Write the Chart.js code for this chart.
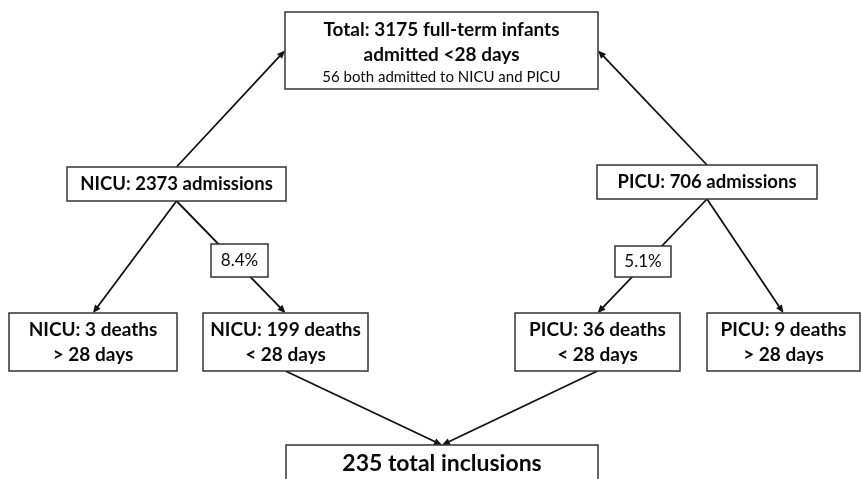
<!DOCTYPE html>
<html>
<head>
<meta charset="utf-8">
<script src="https://cdn.jsdelivr.net/npm/chart.js@4"></script>
<style>
  html, body { margin: 0; padding: 0; background: #fff; }
  canvas { display: block; }
</style>
</head>
<body>
<canvas id="flow" width="861" height="479"></canvas>
<script>
// Tal från flödesschemat
const totalInfants = 3175;
const bothUnits = 56;
const units = ['NICU', 'PICU'];
const admissions = [2373, 706];
const deathsUnder28 = [199, 36];
const deathsOver28 = [3, 9];
const mortalityPct = ['8.4%', '5.1%'];
const totalInclusions = 235;

// Layout i datakoordinater (x0, y0, x1, y1)
const nodes = [
  { id: 'top',   box: [285, 12, 598, 89],  lines: [
      { t: `Total: ${totalInfants} full-term infants`, s: 19, b: true, y: 30 },
      { t: 'admitted <28 days', s: 19, b: true, y: 55 },
      { t: `${bothUnits} both admitted to NICU and PICU`, s: 15, b: false, y: 77 }] },
  { id: 'nAdm',  box: [67, 167, 286, 201],  lines: [{ t: `${units[0]}: ${admissions[0]} admissions`, s: 18.5, b: true }] },
  { id: 'pAdm',  box: [597, 165, 817, 199], lines: [{ t: `${units[1]}: ${admissions[1]} admissions`, s: 18.5, b: true }] },
  { id: 'nOld',  box: [9, 313, 177, 371],   lines: [{ t: `${units[0]}: ${deathsOver28[0]} deaths`, s: 19, b: true, y: 330 }, { t: '> 28 days', s: 19, b: true, y: 355 }] },
  { id: 'nNew',  box: [203, 313, 368, 371], lines: [{ t: `${units[0]}: ${deathsUnder28[0]} deaths`, s: 19, b: true, y: 330 }, { t: '< 28 days', s: 19, b: true, y: 355 }] },
  { id: 'pNew',  box: [515, 313, 680, 371], lines: [{ t: `${units[1]}: ${deathsUnder28[1]} deaths`, s: 19, b: true, y: 330 }, { t: '< 28 days', s: 19, b: true, y: 355 }] },
  { id: 'pOld',  box: [707, 313, 860, 371], lines: [{ t: `${units[1]}: ${deathsOver28[1]} deaths`, s: 19, b: true, y: 330 }, { t: '> 28 days', s: 19, b: true, y: 355 }] },
  { id: 'incl',  box: [286, 445, 598, 500], lines: [{ t: `${totalInclusions} total inclusions`, s: 23, b: true, y: 464 }] }
];

// Pilar: [från, sida, till, sida]
const edges = [
  ['nAdm', 'top', 'top', 'left'],
  ['pAdm', 'top', 'top', 'right'],
  ['nAdm', 'bottom', 'nOld', 'top'],
  ['nAdm', 'bottom', 'nNew', 'top'],
  ['pAdm', 'bottom', 'pNew', 'top'],
  ['pAdm', 'bottom', 'pOld', 'top'],
  ['nNew', 'bottom', 'incl', 'top'],
  ['pNew', 'bottom', 'incl', 'top']
];

// Procentrutor ovanpå pilarna
const pctBoxes = [
  { t: mortalityPct[0], box: [211, 244, 268, 277] },
  { t: mortalityPct[1], box: [615, 246, 671, 277] }
];

const FONT = 'Lato, "Open Sans", sans-serif';

function anchor(n, side) {
  const [x0, y0, x1, y1] = n.box;
  if (side === 'top') return [(x0 + x1) / 2, y0];
  if (side === 'bottom') return [(x0 + x1) / 2, y1];
  if (side === 'left') return [x0, (y0 + y1) / 2];
  return [x1, (y0 + y1) / 2];
}

const flowPlugin = {
  id: 'flow',
  afterDatasetsDraw(chart) {
    const ctx = chart.ctx;
    const sx = chart.scales.x, sy = chart.scales.y;
    const px = v => sx.getPixelForValue(v);
    const py = v => sy.getPixelForValue(v);
    const byId = {};
    nodes.forEach(n => byId[n.id] = n);

    ctx.save();
    // Pilar
    ctx.strokeStyle = '#111';
    ctx.fillStyle = '#111';
    ctx.lineWidth = 1.8;
    edges.forEach(([a, sa, b, sb]) => {
      const p = anchor(byId[a], sa), q = anchor(byId[b], sb);
      const x1 = px(p[0]), y1 = py(p[1]), x2 = px(q[0]), y2 = py(q[1]);
      const ang = Math.atan2(y2 - y1, x2 - x1);
      ctx.beginPath();
      ctx.moveTo(x1, y1);
      ctx.lineTo(x2 - 4 * Math.cos(ang), y2 - 4 * Math.sin(ang));
      ctx.stroke();
      const L = 8, W = 3.5;
      ctx.beginPath();
      ctx.moveTo(x2, y2);
      ctx.lineTo(x2 - L * Math.cos(ang) + W * Math.sin(ang), y2 - L * Math.sin(ang) - W * Math.cos(ang));
      ctx.lineTo(x2 - L * Math.cos(ang) - W * Math.sin(ang), y2 - L * Math.sin(ang) + W * Math.cos(ang));
      ctx.closePath();
      ctx.fill();
    });

    // Rutor
    function drawBox(box) {
      const [x0, y0, x1, y1] = box;
      ctx.fillStyle = '#fff';
      ctx.fillRect(px(x0), py(y0), px(x1) - px(x0), py(y1) - py(y0));
      ctx.strokeStyle = '#333';
      ctx.lineWidth = 1.5;
      ctx.strokeRect(px(x0), py(y0), px(x1) - px(x0), py(y1) - py(y0));
    }
    ctx.textAlign = 'center';
    ctx.textBaseline = 'middle';
    nodes.forEach(n => {
      drawBox(n.box);
      const cx = (n.box[0] + n.box[2]) / 2, cy = (n.box[1] + n.box[3]) / 2;
      n.lines.forEach(l => {
        ctx.fillStyle = '#0a0a0a';
        ctx.font = `${l.b ? 'bold ' : ''}${l.s}px ${FONT}`;
        ctx.fillText(l.t, px(cx), py(l.y !== undefined ? l.y : cy));
      });
    });
    pctBoxes.forEach(p => {
      drawBox(p.box);
      ctx.fillStyle = '#0a0a0a';
      ctx.font = `17px ${FONT}`;
      ctx.fillText(p.t, px((p.box[0] + p.box[2]) / 2), py((p.box[1] + p.box[3]) / 2));
    });
    ctx.restore();
  }
};

new Chart(document.getElementById('flow'), {
  type: 'scatter',
  data: {
    datasets: [{
      data: nodes.map(n => ({ x: (n.box[0] + n.box[2]) / 2, y: (n.box[1] + n.box[3]) / 2 })),
      pointRadius: 0
    }]
  },
  options: {
    responsive: false,
    animation: false,
    layout: { padding: 0 },
    scales: {
      x: { type: 'linear', min: 0, max: 861, display: false },
      y: { type: 'linear', min: 0, max: 479, reverse: true, display: false }
    },
    plugins: { legend: { display: false }, tooltip: { enabled: false } }
  },
  plugins: [flowPlugin]
});
</script>
</body>
</html>
